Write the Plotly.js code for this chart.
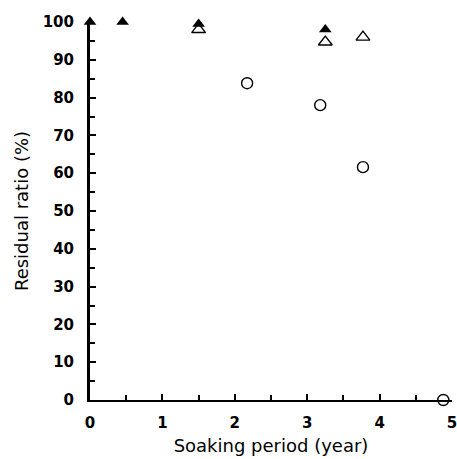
<!DOCTYPE html>
<html>
<head>
<meta charset="utf-8">
<script src="https://cdn.plot.ly/plotly-3.0.1.min.js"></script>
<style>html,body{margin:0;padding:0;background:#fff;}#chart{width:457px;height:459px;}</style>
</head>
<body>
<div id="chart"></div>
<script>
// Filled triangles
const filledTriX = [0, 0.45, 1.5, 3.25];
const filledTriY = [100, 100, 99.5, 98];
// Open triangles
const openTriX = [1.5, 3.25, 3.77];
const openTriY = [98, 94.7, 96];
// Open circles
const openCircX = [2.17, 3.18, 3.77, 4.88];
const openCircY = [83.8, 78, 61.6, 0];

const xTicks = [0, 1, 2, 3, 4, 5];
const yTicks = [0, 10, 20, 30, 40, 50, 60, 70, 80, 90, 100];

const traces = [
  {x: openCircX, y: openCircY, mode: 'markers', type: 'scatter', cliponaxis: false,
   marker: {symbol: 'circle-open', size: 11, color: '#000', line: {width: 1.4, color: '#000'}}},
  {x: openTriX, y: openTriY, mode: 'markers', type: 'scatter', cliponaxis: false,
   marker: {symbol: 'triangle-up-open', size: 12, color: '#000', line: {width: 1.4, color: '#000'}}},
  {x: filledTriX, y: filledTriY, mode: 'markers', type: 'scatter', cliponaxis: false,
   marker: {symbol: 'triangle-up', size: 11, color: '#000', line: {width: 0}}}
];

const layout = {
  width: 457, height: 459,
  margin: {l: 89.5, r: 5, t: 22, b: 59},
  paper_bgcolor: '#fff', plot_bgcolor: '#fff',
  showlegend: false,
  font: {family: 'DejaVu Sans', color: '#000'},
  xaxis: {
    range: [0, 5], tickvals: xTicks, ticktext: xTicks.map(String),
    ticks: 'inside', ticklen: 6, tickwidth: 2, tickcolor: '#000',
    minor: {dtick: 0.5, ticks: 'inside', ticklen: 5, tickwidth: 2, tickcolor: '#000'},
    showline: true, linewidth: 2, linecolor: '#000', showgrid: false, zeroline: false,
    tickfont: {family: 'DejaVu Sans', size: 15, weight: 'bold', color: '#000'},
    ticklabelstandoff: 8, ticklabeloverflow: 'allow',
    title: {text: 'Soaking period (year)', font: {family: 'DejaVu Sans', size: 18, color: '#000'}, standoff: 8}
  },
  yaxis: {
    range: [0, 100], tickvals: yTicks, ticktext: yTicks.map(String),
    ticks: 'inside', ticklen: 6, tickwidth: 2, tickcolor: '#000',
    minor: {dtick: 5, ticks: 'inside', ticklen: 5, tickwidth: 2, tickcolor: '#000'},
    showline: true, linewidth: 3, linecolor: '#000', showgrid: false, zeroline: false,
    tickfont: {family: 'DejaVu Sans', size: 15, weight: 'bold', color: '#000'},
    ticklabelstandoff: 10,
    title: {text: 'Residual ratio (%)', font: {family: 'DejaVu Sans', size: 18, color: '#000'}, standoff: 10}
  }
};

Plotly.newPlot('chart', traces, layout, {displayModeBar: false, staticPlot: true});
</script>
</body>
</html>
